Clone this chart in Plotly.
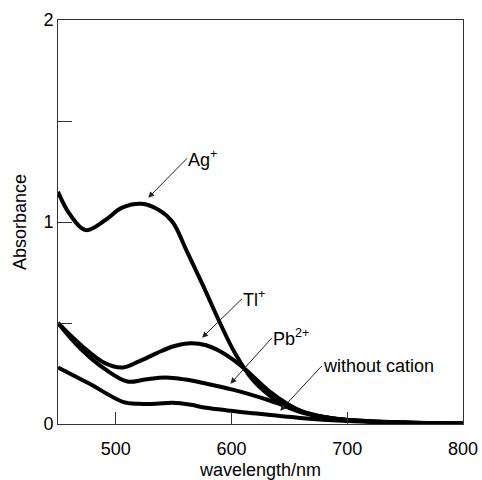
import plotly.graph_objects as go

# Absorption spectra (wavelength in nm, absorbance)
ag_wl = [450, 460, 474, 491, 505, 522, 537, 549, 561, 575, 590, 603, 618, 633, 648, 665, 685, 710, 750, 800]
ag_abs = [1.15, 1.04, 0.96, 1.01, 1.07, 1.09, 1.06, 1.00, 0.86, 0.69, 0.50, 0.35, 0.22, 0.14, 0.085, 0.05, 0.03, 0.016, 0.007, 0.003]

tl_wl = [450, 470, 491, 506, 520, 535, 550, 565, 578, 590, 601, 612, 633, 648, 662, 680, 700, 750, 800]
tl_abs = [0.50, 0.39, 0.30, 0.28, 0.31, 0.35, 0.385, 0.40, 0.39, 0.36, 0.32, 0.27, 0.16, 0.10, 0.06, 0.035, 0.02, 0.008, 0.003]

pb_wl = [450, 470, 491, 510, 525, 543, 560, 578, 601, 631, 659, 680, 700, 750, 800]
pb_abs = [0.50, 0.37, 0.27, 0.21, 0.22, 0.23, 0.22, 0.20, 0.17, 0.12, 0.065, 0.035, 0.02, 0.008, 0.003]

free_wl = [450, 477, 506, 520, 535, 549, 565, 578, 616, 659, 700, 750, 800]
free_abs = [0.28, 0.20, 0.11, 0.10, 0.10, 0.105, 0.095, 0.08, 0.055, 0.03, 0.015, 0.006, 0.002]

# Label text, arrow head (x, y) and label anchor (ax, ay) in data units
labels = ["Ag<sup>+</sup>", "Tl<sup>+</sup>", "Pb<sup>2+</sup>", "without cation"]
head_x = [528, 574.5, 599, 642]
head_y = [1.12, 0.427, 0.199, 0.065]
tail_x = [561.5, 609, 635, 678]
tail_y = [1.315, 0.62, 0.427, 0.288]

x_ticks = [500, 600, 700, 800]
y_ticks = [0, 1, 2]

FONT = "Liberation Sans, Arial, Helvetica, sans-serif"
FS = 18

fig = go.Figure()
for wl, ab in [(ag_wl, ag_abs), (tl_wl, tl_abs), (pb_wl, pb_abs), (free_wl, free_abs)]:
    fig.add_trace(go.Scatter(
        x=wl, y=ab, mode="lines",
        line=dict(color="black", width=4, shape="spline", smoothing=1.0),
        showlegend=False, hoverinfo="skip",
    ))

# labels with leader arrows pointing at each curve
for txt, hx, hy, tx, ty in zip(labels, head_x, head_y, tail_x, tail_y):
    fig.add_annotation(
        x=hx, y=hy, ax=tx, ay=ty, xref="x", yref="y", axref="x", ayref="y",
        text=txt, showarrow=True, arrowhead=2, arrowsize=1.2, arrowwidth=1,
        arrowcolor="#222", xanchor="left", yanchor="middle", borderpad=0,
        font=dict(family=FONT, size=FS, color="black"),
    )

axis_common = dict(
    showline=True, linecolor="#333", linewidth=1, mirror=True,
    showgrid=False, zeroline=False, ticks="inside", tickcolor="#333",
    tickwidth=1, tickfont=dict(family=FONT, size=FS, color="black"),
    automargin=False,
)

fig.update_xaxes(
    range=[450, 800], tickvals=x_ticks, ticklen=12, ticklabelstandoff=8,
    title=dict(text="wavelength/nm", font=dict(family=FONT, size=FS, color="black"), standoff=9),
    **axis_common,
)
fig.update_yaxes(
    range=[0, 2], tickvals=y_ticks, ticklen=14,
    minor=dict(dtick=0.5, ticks="inside", ticklen=14, tickcolor="#333", tickwidth=1, showgrid=False),
    title=dict(text="Absorbance", font=dict(family=FONT, size=FS, color="black"), standoff=12),
    **axis_common,
)

fig.update_layout(
    width=482, height=480,
    margin=dict(l=58, r=19, t=20, b=56),
    paper_bgcolor="white", plot_bgcolor="white",
)

fig.write_html("out.html")
